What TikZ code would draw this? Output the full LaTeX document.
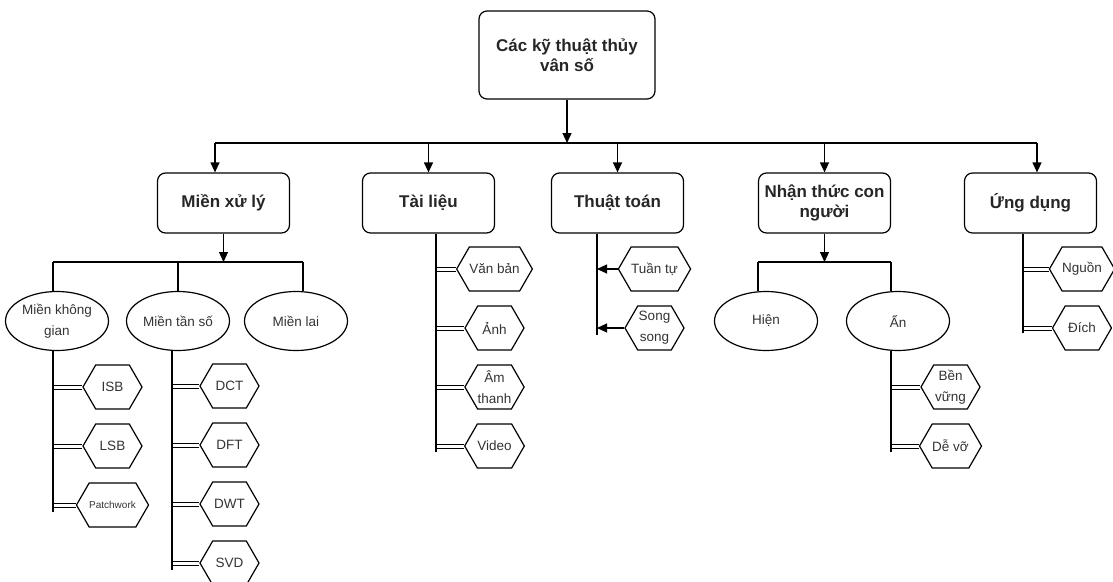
\documentclass[tikz,border=0pt]{standalone}
\usepackage{fontspec}
\setmainfont{Liberation Sans}
\usetikzlibrary{positioning, shapes.geometric, shapes.symbols, arrows.meta, backgrounds}

\begin{document}
\begin{tikzpicture}[x=1pt, y=-1pt,
			box/.style={draw, rounded corners=8pt, line width=1.2pt, align=center, inner sep=0pt, text=black!85, font=\fontsize{17}{20}\selectfont\bfseries},
			topBox/.style={box, minimum width=176pt, minimum height=88pt},
			catBox/.style={box, minimum width=132pt, minimum height=60pt},
			field/.style={draw, ellipse, line width=1.2pt, minimum width=103pt, minimum height=59pt, inner sep=0pt, align=center, text=black!80, font=\fontsize{13.5}{21}\selectfont},
			hexa/.style={draw, signal, signal to=east and west, signal pointer angle=120, line width=1.2pt, minimum width=59pt, minimum height=44pt, inner sep=0pt, align=center, text=black!80, font=\fontsize{13.5}{21}\selectfont},
			wire/.style={line width=1.2pt},
			link/.style={double, double distance=3pt, line width=1pt},
			arrowStrong/.style={line width=1.2pt, -{Triangle[length=10pt, width=9pt]}},
			]
			\useasboundingbox (0,0) rectangle (1113,581);
			
			% top
			\node[topBox] (root) at (567,55) {Các kỹ thuật thủy\\vân số};
			
			\node[catBox] (xuly) at (223.5,203) {Miền xử lý};
			\node[catBox] (tailieu) at (428.5,203) {Tài liệu};
			\node[catBox] (thuattoan) at (617.5,203) {Thuật toán};
			\node[catBox] (nhanthuc) at (824.5,203) {Nhận thức con\\người};
			\node[catBox] (ungdung) at (1030.5,203) {Ứng dụng};
			
			\coordinate (busL) at (215,143);
			\coordinate (busR) at (1037,143);
			\draw[wire] (busL) -- (busR);
			\draw[arrowStrong] (root.south) -- (root.south |- busL);
			\draw[arrowStrong] (busL) -- (busL |- xuly.north);
			\foreach \n in {tailieu, thuattoan, nhanthuc}
			\draw[arrowStrong] (\n.north |- busL) -- (\n.north);
			\draw[arrowStrong] (busR) -- (busR |- ungdung.north);
			
			% Mien xu ly
			\node[field] (khonggian) at (57,321) {Miền không\\gian};
			\node[field] (tanso) at (178,321) {Miền tần số};
			\node[field] (lai) at (296,321) {Miền lai};
			\coordinate (xlL) at (53,262);
			\coordinate (xlR) at (303,262);
			\draw[wire] (xlL) -- (xlR);
			\draw[arrowStrong] (xuly.south) -- (xuly.south |- xlL);
			\draw[wire] (xlL) -- (xlL |- khonggian.north);
			\draw[wire] (tanso.north |- xlL) -- (tanso.north);
			\draw[wire] (xlR) -- (xlR |- lai.north);
			
			\foreach \lbl [count=\i] in {ISB, LSB, {\fontsize{10}{12}\selectfont Patchwork}}
			{\node[hexa] (kg\i) at (112.5, 328+59*\i) {\lbl};}
			\draw[wire] (khonggian.south -| xlL) -- ([yshift=-7pt]kg3.west -| xlL);
			
			\coordinate (tsSpine) at ([xshift=-6pt]tanso.south);
			\foreach \lbl [count=\i] in {DCT, DFT, DWT, SVD}
			{\node[hexa] (ts\i) at (229.5, 327+59*\i) {\lbl};}
			\draw[wire] (tsSpine) -- ([yshift=-7pt]ts4.west -| tsSpine);
			
			% Tai lieu
			\coordinate (tlSpine) at ([xshift=7.5pt]tailieu.south);
			\foreach \lbl [count=\i] in {Văn bản, Ảnh, Âm\\thanh, Video}
			{\node[hexa] (tl\i) at (494.5, 210+59*\i) {\lbl};}
			\draw[wire] (tlSpine) -- ([yshift=-6pt]tl4.west -| tlSpine);
			
			% Thuat toan
			\coordinate (ttSpine) at ([xshift=-20.5pt]thuattoan.south);
			\foreach \lbl [count=\i] in {Tuần tự, Song\\song}
			{\node[hexa] (tt\i) at (654.5, 210+59*\i) {\lbl};}
			\draw[wire] (ttSpine) -- ([yshift=-7pt]tt2.west -| ttSpine);
			\foreach \i in {1,2}
			\draw[arrowStrong] (tt\i.west) -- (tt\i.west -| ttSpine);
			
			% Nhan thuc con nguoi
			\node[field] (hien) at (766,321) {Hiện};
			\node[field] (an) at (898,321) {Ẩn};
			\coordinate (ntL) at (758,262);
			\coordinate (ntR) at (891,262);
			\draw[wire] (ntL) -- (ntR);
			\draw[arrowStrong] (nhanthuc.south) -- (nhanthuc.south |- ntL);
			\draw[wire] (ntL) -- (ntL |- hien.north);
			\draw[wire] (ntR) -- (ntR |- an.north);
			\foreach \lbl [count=\i] in {Bền\\vững, Dễ vỡ}
			{\node[hexa] (bv\i) at (950.5, 328+59*\i) {\lbl};}
			\draw[wire] (an.south -| ntR) -- ([yshift=-6pt]bv2.west -| ntR);
			
			% Ung dung
			\coordinate (udSpine) at ([xshift=-7.5pt]ungdung.south);
			\foreach \lbl [count=\i] in {Nguồn, Đích}
			{\node[hexa] (ud\i) at (1082, 210+59*\i) {\lbl};}
			\draw[wire] (udSpine) -- ([yshift=-5pt]ud2.west -| udSpine);
			
			% Links
			\begin{pgfonlayer}{background}
				\foreach \i in {1,...,3}
				\draw[link] (kg\i.west) -- (kg\i.west -| xlL);
				\foreach \i in {1,...,4}
				\draw[link] (ts\i.west) -- (ts\i.west -| tsSpine);
				\foreach \i in {1,...,4}
				\draw[link] (tl\i.west) -- (tl\i.west -| tlSpine);
				\foreach \i in {1,2}
				\draw[link] (bv\i.west) -- (bv\i.west -| ntR);
				\foreach \i in {1,2}
				\draw[link] (ud\i.west) -- (ud\i.west -| udSpine);
			\end{pgfonlayer}
			
		\end{tikzpicture}
\end{document}
